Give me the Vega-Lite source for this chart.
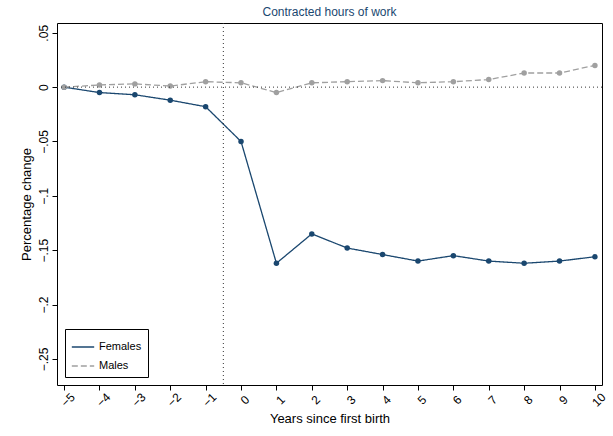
{
  "$schema": "https://vega.github.io/schema/vega-lite/v6.json",
  "width": 613,
  "height": 436,
  "autosize": {"type": "fit", "contains": "padding"},
  "background": "white",
  "padding": {"left": 20, "right": 6, "top": 5, "bottom": 10},
  "config": {
    "font": "Liberation Sans",
    "view": {"stroke": "black", "strokeWidth": 1},
    "axis": {"grid": false, "domain": false, "tickColor": "black", "labelColor": "black", "titleColor": "black", "labelFontSize": 12, "titleFontSize": 13, "titleFontWeight": "normal"}
  },
  "title": {"text": "Contracted hours of work", "fontSize": 12, "fontWeight": "normal", "color": "#1a476f", "offset": 4},
  "data": {"values": [
    {"year": -5, "s": "Females", "v": 0}, {"year": -4, "s": "Females", "v": -0.005},
    {"year": -3, "s": "Females", "v": -0.007}, {"year": -2, "s": "Females", "v": -0.012},
    {"year": -1, "s": "Females", "v": -0.018}, {"year": 0, "s": "Females", "v": -0.05},
    {"year": 1, "s": "Females", "v": -0.162}, {"year": 2, "s": "Females", "v": -0.135},
    {"year": 3, "s": "Females", "v": -0.148}, {"year": 4, "s": "Females", "v": -0.154},
    {"year": 5, "s": "Females", "v": -0.16}, {"year": 6, "s": "Females", "v": -0.155},
    {"year": 7, "s": "Females", "v": -0.16}, {"year": 8, "s": "Females", "v": -0.162},
    {"year": 9, "s": "Females", "v": -0.16}, {"year": 10, "s": "Females", "v": -0.156},
    {"year": -5, "s": "Males", "v": 0}, {"year": -4, "s": "Males", "v": 0.002},
    {"year": -3, "s": "Males", "v": 0.003}, {"year": -2, "s": "Males", "v": 0.001},
    {"year": -1, "s": "Males", "v": 0.005}, {"year": 0, "s": "Males", "v": 0.004},
    {"year": 1, "s": "Males", "v": -0.005}, {"year": 2, "s": "Males", "v": 0.004},
    {"year": 3, "s": "Males", "v": 0.005}, {"year": 4, "s": "Males", "v": 0.006},
    {"year": 5, "s": "Males", "v": 0.004}, {"year": 6, "s": "Males", "v": 0.005},
    {"year": 7, "s": "Males", "v": 0.007}, {"year": 8, "s": "Males", "v": 0.013},
    {"year": 9, "s": "Males", "v": 0.013}, {"year": 10, "s": "Males", "v": 0.02}
  ]},
  "layer": [
    {
      "mark": {"type": "line", "point": {"filled": true, "size": 30}, "strokeWidth": 1.3},
      "encoding": {
        "x": {"field": "year", "type": "quantitative", "title": "Years since first birth",
          "scale": {"domain": [-5.2, 10.2], "nice": false, "zero": false},
          "axis": {"values": [-5,-4,-3,-2,-1,0,1,2,3,4,5,6,7,8,9,10], "tickCount": 20, "labelOverlap": false, "labelAngle": -45, "labelAlign": "center", "labelBaseline": "top", "labelPadding": 6}},
        "y": {"field": "v", "type": "quantitative", "title": "Percentage change",
          "scale": {"domain": [-0.274, 0.059], "nice": false},
          "axis": {"values": [0.05, 0, -0.05, -0.1, -0.15, -0.2, -0.25], "tickCount": 10, "labelOverlap": false, "labelAngle": -90, "labelAlign": "center", "labelBaseline": "bottom",
            "labelExpr": "replace(format(datum.value, '.2~f'), '0.', '.')"}},
        "color": {"field": "s", "type": "nominal", "title": null,
          "scale": {"domain": ["Females", "Males"], "range": ["#1a476f", "#a0a0a0"]},
          "legend": {"orient": "bottom-left", "offset": 8, "strokeColor": "black", "padding": 6, "symbolType": "stroke", "symbolSize": 500, "labelFontSize": 11, "rowPadding": 2}},
        "strokeDash": {"field": "s", "type": "nominal",
          "scale": {"domain": ["Females", "Males"], "range": [[1, 0], [6, 3]]}, "legend": null}
      }
    },
    {
      "data": {"values": [{"x": -0.5, "y": 0}]},
      "mark": {"type": "rule", "strokeDash": [1, 3], "color": "#333"},
      "encoding": {"x": {"field": "x", "type": "quantitative"}}
    },
    {
      "data": {"values": [{"x": -0.5, "y": 0}]},
      "mark": {"type": "rule", "strokeDash": [1, 3], "color": "#333"},
      "encoding": {"y": {"field": "y", "type": "quantitative"}}
    }
  ]
}
